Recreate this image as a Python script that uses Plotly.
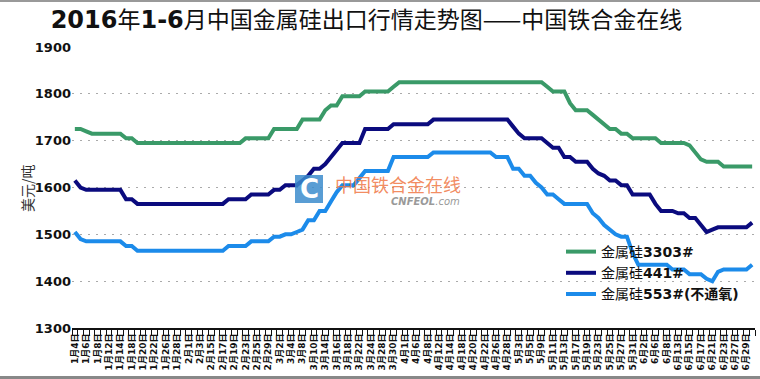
import plotly.graph_objects as go

dates = [
    "1月4日","1月5日","1月6日","1月7日","1月8日","1月11日","1月12日","1月13日","1月14日","1月15日",
    "1月18日","1月19日","1月20日","1月21日","1月22日","1月25日","1月26日","1月27日","1月28日","1月29日",
    "2月1日","2月2日","2月3日","2月4日","2月15日","2月16日","2月17日","2月18日","2月19日","2月22日",
    "2月23日","2月24日","2月25日","2月26日","2月29日",
    "3月1日","3月2日","3月3日","3月4日","3月7日","3月8日","3月9日","3月10日","3月11日","3月14日",
    "3月15日","3月16日","3月17日","3月18日","3月21日","3月22日","3月23日","3月24日","3月25日","3月28日",
    "3月29日","3月30日","3月31日",
    "4月1日","4月5日","4月6日","4月7日","4月8日","4月11日","4月12日","4月13日","4月14日","4月15日",
    "4月18日","4月19日","4月20日","4月21日","4月22日","4月25日","4月26日","4月27日","4月28日","4月29日",
    "5月3日","5月4日","5月5日","5月6日","5月9日","5月10日","5月11日","5月12日","5月13日","5月16日",
    "5月17日","5月18日","5月19日","5月20日","5月23日","5月24日","5月25日","5月26日","5月27日","5月30日",
    "5月31日",
    "6月1日","6月2日","6月3日","6月6日","6月7日","6月8日","6月12日","6月13日","6月14日","6月15日",
    "6月16日","6月17日","6月20日","6月21日","6月22日","6月23日","6月24日","6月27日","6月28日","6月29日",
    "6月30日",
]

si_3303 = [
    1725,1725,1720,1715,1715,1715,1715,1715,1715,1705,
    1705,1695,1695,1695,1695,1695,1695,1695,1695,1695,
    1695,1695,1695,1695,1695,1695,1695,1695,1695,1695,
    1705,1705,1705,1705,1705,1725,1725,1725,1725,1725,
    1745,1745,1745,1745,1765,1775,1775,1795,1795,1795,
    1795,1805,1805,1805,1805,1805,1815,1825,1825,1825,
    1825,1825,1825,1825,1825,1825,1825,1825,1825,1825,
    1825,1825,1825,1825,1825,1825,1825,1825,1825,1825,
    1825,1825,1825,1815,1805,1805,1805,1780,1765,1765,
    1765,1755,1745,1735,1725,1725,1715,1715,1705,1705,
    1705,1705,1705,1695,1695,1695,1695,1695,1690,1675,
    1660,1655,1655,1655,1645,1645,1645,1645,1645,1645,
]

si_441 = [
    1615,1600,1595,1595,1595,1595,1595,1595,1595,1575,
    1575,1565,1565,1565,1565,1565,1565,1565,1565,1565,
    1565,1565,1565,1565,1565,1565,1565,1575,1575,1575,
    1575,1585,1585,1585,1585,1595,1595,1605,1605,1605,
    1615,1625,1640,1640,1650,1665,1680,1695,1695,1695,
    1695,1725,1725,1725,1725,1725,1735,1735,1735,1735,
    1735,1735,1735,1745,1745,1745,1745,1745,1745,1745,
    1745,1745,1745,1745,1745,1745,1745,1730,1715,1705,
    1705,1705,1705,1695,1685,1685,1665,1665,1655,1655,
    1655,1640,1630,1625,1615,1615,1605,1605,1585,1585,
    1585,1585,1565,1550,1550,1550,1545,1545,1535,1535,
    1520,1505,1510,1515,1515,1515,1515,1515,1515,1525,
]

si_553 = [
    1505,1490,1485,1485,1485,1485,1485,1485,1485,1475,
    1475,1465,1465,1465,1465,1465,1465,1465,1465,1465,
    1465,1465,1465,1465,1465,1465,1465,1475,1475,1475,
    1475,1485,1485,1485,1485,1495,1495,1500,1500,1505,
    1510,1530,1530,1550,1550,1570,1590,1605,1605,1605,
    1620,1635,1635,1635,1635,1635,1665,1665,1665,1665,
    1665,1665,1665,1675,1675,1675,1675,1675,1675,1675,
    1675,1675,1675,1675,1665,1665,1665,1640,1640,1625,
    1625,1610,1600,1585,1585,1575,1565,1565,1565,1565,
    1565,1545,1535,1520,1510,1500,1495,1495,1460,1435,
    1435,1435,1435,1435,1435,1425,1425,1425,1415,1415,
    1415,1405,1400,1420,1425,1425,1425,1425,1425,1435,
]

series_names = ["金属硅<b>3303#</b>", "金属硅<b>441#</b>", "金属硅<b>553#(不通氧)</b>"]
series_colors = ["#3A9A68", "#0B0B7E", "#1C8BEA"]
y_ticks = [1300, 1400, 1500, 1600, 1700, 1800, 1900]
tick_labels = ["<b>" + d + "</b>" if i % 2 == 0 else "" for i, d in enumerate(dates)]

fig = go.Figure()
for name, vals, col in zip(series_names, [si_3303, si_441, si_553], series_colors):
    fig.add_trace(go.Scatter(x=dates, y=vals, mode="lines", name=name,
                             line=dict(color=col, width=4)))

W, H = 760, 379
L, R, T, B = 72, 5, 47, 51
pw, ph = W - L - R, H - T - B

def px(x):
    return (x - L) / pw

def py(y):
    return (H - B - y) / ph

dig = '<span style="font-family:DejaVu Sans;font-weight:bold;font-size:24px">'
title_text = (dig + "2016</span>年" + dig + "1-6</span>月中国金属硅出口行情走势图——中国铁合金在线")

fig.update_layout(
    width=W, height=H,
    margin=dict(l=L, r=R, t=T, b=B),
    paper_bgcolor="white", plot_bgcolor="white",
    title=dict(text=title_text,
               x=366.5 / W, xanchor="center", y=1 - 20 / H, yanchor="middle",
               font=dict(family="Noto Sans CJK SC", size=23, color="#111")),
    showlegend=True,
    legend=dict(x=px(561), y=py(236), xanchor="left", yanchor="top",
                bgcolor="rgba(0,0,0,0)", itemwidth=30,
                font=dict(family="DejaVu Sans, Noto Sans CJK SC", size=14, color="#111"),
                tracegroupgap=0),
    xaxis=dict(type="category", tickmode="array", tickvals=dates, ticktext=tick_labels,
               tickangle=-90, tickson="boundaries", ticks="outside", ticklen=6,
               tickcolor="#111", tickwidth=1, showline=True, linecolor="#111", linewidth=2,
               showgrid=False, range=[-0.5, len(dates) - 0.5],
               tickfont=dict(family="DejaVu Sans, Noto Sans CJK SC", size=9, color="#111")),
    yaxis=dict(range=[1300, 1900], tickvals=y_ticks, showgrid=True, gridcolor="#AAAAAA",
               griddash="2px,6px", gridwidth=1, zeroline=False, showline=False, ticks="",
               tickfont=dict(family="DejaVu Sans", size=13, color="#111", weight="bold")),
    annotations=[
        dict(text="美元/吨", x=px(15), y=py(188), xref="paper", yref="paper", showarrow=False,
             textangle=-90, font=dict(family="Noto Sans CJK SC", size=14, color="#333")),
        dict(text="<b>C</b>", x=px(309), y=py(189), xref="paper", yref="paper", showarrow=False,
             font=dict(family="DejaVu Sans", size=26, color="white")),
        dict(text="中国铁合金在线", x=px(398), y=py(184), xref="paper", yref="paper", showarrow=False,
             font=dict(family="Noto Sans CJK SC", size=18, color="rgba(240,120,70,0.85)")),
        dict(text="<b><i>CNFEOL</i></b><i>.com</i>", x=px(425), y=py(201), xref="paper", yref="paper",
             showarrow=False, font=dict(family="DejaVu Sans", size=10, color="#9A9A9A")),
    ],
    shapes=[
        dict(type="rect", xref="paper", yref="paper", x0=px(295), x1=px(323), y0=py(203), y1=py(175),
             fillcolor="rgba(60,140,205,0.85)", line=dict(width=0), layer="above"),
        dict(type="line", xref="paper", yref="paper", x0=px(0), x1=px(W), y0=py(1), y1=py(1),
             line=dict(color="#999", width=2)),
        dict(type="line", xref="paper", yref="paper", x0=px(0), x1=px(W), y0=py(377.5), y1=py(377.5),
             line=dict(color="#888", width=3)),
    ],
)

fig.write_html("out.html", config={"displayModeBar": False},
               post_script="document.body.style.margin='0';")
